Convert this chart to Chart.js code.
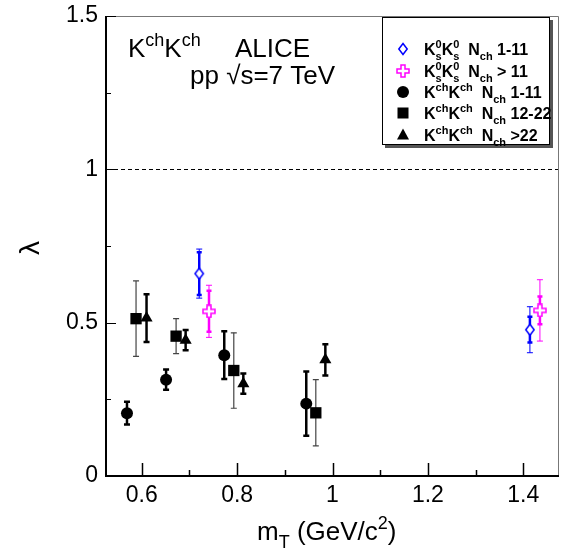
<!DOCTYPE html>
<html>
<head>
<meta charset="utf-8">
<script src="https://cdn.jsdelivr.net/npm/chart.js@4.4.1/dist/chart.umd.min.js"></script>
<style>
  html, body { margin: 0; padding: 0; background: #fff; }
  #wrap { position: relative; width: 567px; height: 554px; }
</style>
</head>
<body>
<div id="wrap"><canvas id="chart" width="567" height="554"></canvas></div>
<script>
// lambda vs mT
const circX = [0.569, 0.651, 0.773, 0.945];
const circY = [0.205, 0.314, 0.394, 0.236];
const circErr = [0.037, 0.033, 0.078, 0.105];

const sqX = [0.588, 0.672, 0.793, 0.965];
const sqY = [0.513, 0.456, 0.344, 0.206];
const sqErr = [0.123, 0.057, 0.123, 0.108];

const triX = [0.610, 0.692, 0.813, 0.985];
const triY = [0.515, 0.443, 0.301, 0.379];
const triErr = [0.078, 0.033, 0.033, 0.051];

const k0LowX = [0.7205, 1.414];
const k0LowY = [0.660, 0.477];
const k0LowStat = [0.070, 0.042];
const k0LowSyst = [0.080, 0.075];

const k0HighX = [0.741, 1.435];
const k0HighY = [0.537, 0.540];
const k0HighStat = [0.067, 0.045];
const k0HighSyst = [0.085, 0.100];

const xMajor = [0.6, 0.8, 1, 1.2, 1.4];
const xMinor = [0.7, 0.9, 1.1, 1.3];
const yMajor = [0, 0.5, 1, 1.5];
const yMinor = [0.25, 0.75, 1.25];

// text pieces: [text, superscript, subscript]
const legendRows = [
  [['K', '0', 's'], ['K', '0', 's'], ['  N', null, 'ch'], [' 1-11']],
  [['K', '0', 's'], ['K', '0', 's'], ['  N', null, 'ch'], [' > 11']],
  [['K', 'ch'], ['K', 'ch'], ['  N', null, 'ch'], [' 1-11']],
  [['K', 'ch'], ['K', 'ch'], ['  N', null, 'ch'], [' 12-22']],
  [['K', 'ch'], ['K', 'ch'], ['  N', null, 'ch'], [' >22']],
];
const legendMarkers = ['diamond', 'cross', 'circle', 'square', 'triangle'];

const FONT = '"Liberation Sans", Arial, sans-serif';
const BLUE = '#0000ff';
const MAGENTA = '#ff00ff';

function toPoints(xs, ys) {
  return xs.map((x, i) => ({ x, y: ys[i] }));
}

function makeDiamond() {
  const c = document.createElement('canvas');
  c.width = 12;
  c.height = 14;
  const g = c.getContext('2d');
  g.beginPath();
  g.moveTo(6, 1.5);
  g.lineTo(10.2, 7);
  g.lineTo(6, 12.5);
  g.lineTo(1.8, 7);
  g.closePath();
  g.fillStyle = '#fff';
  g.fill();
  g.strokeStyle = BLUE;
  g.lineWidth = 1.5;
  g.stroke();
  return c;
}

function makeCross() {
  const c = document.createElement('canvas');
  c.width = 14;
  c.height = 14;
  const g = c.getContext('2d');
  const pts = [[5, 1], [9, 1], [9, 5], [13, 5], [13, 9], [9, 9], [9, 13], [5, 13], [5, 9], [1, 9], [1, 5], [5, 5]];
  g.beginPath();
  pts.forEach(([px, py], i) => (i ? g.lineTo(px, py) : g.moveTo(px, py)));
  g.closePath();
  g.fillStyle = '#fff';
  g.fill();
  g.strokeStyle = MAGENTA;
  g.lineWidth = 1.5;
  g.stroke();
  return c;
}

const diamondImg = makeDiamond();
const crossImg = makeCross();

function drawRich(ctx, x, y, parts, size, weight) {
  let cx = x;
  const small = Math.round(size * 0.68);
  ctx.textAlign = 'left';
  ctx.textBaseline = 'alphabetic';
  parts.forEach(([t, sup, sub]) => {
    ctx.font = `${weight} ${size}px ${FONT}`;
    ctx.fillText(t, cx, y);
    cx += ctx.measureText(t).width;
    ctx.font = `${weight} ${small}px ${FONT}`;
    let w = 0;
    if (sup) {
      ctx.fillText(sup, cx, y - size * 0.42);
      w = ctx.measureText(sup).width;
    }
    if (sub) {
      ctx.fillText(sub, cx, y + size * 0.3);
      w = Math.max(w, ctx.measureText(sub).width);
    }
    cx += w;
  });
  return cx;
}

function drawBar(ctx, px, yScale, val, err, st) {
  const top = yScale.getPixelForValue(val + err);
  const bot = yScale.getPixelForValue(val - err);
  ctx.strokeStyle = st.color;
  ctx.lineWidth = st.width;
  ctx.beginPath();
  ctx.moveTo(px, top);
  ctx.lineTo(px, bot);
  ctx.stroke();
  ctx.lineWidth = st.capWidth;
  ctx.beginPath();
  ctx.moveTo(px - st.cap, top);
  ctx.lineTo(px + st.cap, top);
  ctx.moveTo(px - st.cap, bot);
  ctx.lineTo(px + st.cap, bot);
  ctx.stroke();
}

const errorBars = {
  id: 'errorBars',
  beforeDatasetsDraw(chart) {
    const { ctx, scales: { x, y } } = chart;
    ctx.save();
    chart.data.datasets.forEach((ds) => {
      ds.data.forEach((p, i) => {
        const px = x.getPixelForValue(p.x);
        if (ds.syst) drawBar(ctx, px, y, p.y, ds.syst[i], ds.systStyle);
        if (ds.stat) drawBar(ctx, px, y, p.y, ds.stat[i], ds.statStyle);
      });
    });
    ctx.restore();
  },
};

function drawMarker(ctx, kind, cx, cy) {
  ctx.fillStyle = '#000';
  ctx.beginPath();
  if (kind === 'circle') {
    ctx.arc(cx, cy, 6, 0, Math.PI * 2);
    ctx.fill();
  } else if (kind === 'square') {
    ctx.fillRect(cx - 5.5, cy - 5.5, 11, 11);
  } else if (kind === 'triangle') {
    ctx.moveTo(cx, cy - 6.5);
    ctx.lineTo(cx + 6, cy + 4.5);
    ctx.lineTo(cx - 6, cy + 4.5);
    ctx.closePath();
    ctx.fill();
  } else if (kind === 'diamond') {
    ctx.drawImage(diamondImg, cx - 6, cy - 7);
  } else {
    ctx.drawImage(crossImg, cx - 7, cy - 7);
  }
}

const decorations = {
  id: 'decorations',
  afterDraw(chart) {
    const { ctx, chartArea: a, scales: { x, y } } = chart;
    ctx.save();

    // thin frame on top and right
    ctx.strokeStyle = '#777';
    ctx.lineWidth = 1;
    ctx.beginPath();
    ctx.moveTo(a.left, a.top + 0.5);
    ctx.lineTo(a.right - 0.5, a.top + 0.5);
    ctx.lineTo(a.right - 0.5, a.bottom);
    ctx.stroke();

    // axes
    ctx.strokeStyle = '#000';
    ctx.lineWidth = 2;
    ctx.beginPath();
    ctx.moveTo(a.left, a.top);
    ctx.lineTo(a.left, a.bottom);
    ctx.lineTo(a.right, a.bottom);
    ctx.stroke();

    // inner ticks
    ctx.lineWidth = 1.5;
    ctx.beginPath();
    xMajor.forEach((v) => {
      const px = Math.round(x.getPixelForValue(v)) + 0.5;
      ctx.moveTo(px, a.bottom);
      ctx.lineTo(px, a.bottom - 13);
    });
    xMinor.forEach((v) => {
      const px = Math.round(x.getPixelForValue(v)) + 0.5;
      ctx.moveTo(px, a.bottom);
      ctx.lineTo(px, a.bottom - 6);
    });
    ctx.stroke();
    ctx.lineWidth = 1;
    ctx.beginPath();
    yMajor.forEach((v) => {
      const py = Math.round(y.getPixelForValue(v)) + 0.5;
      ctx.moveTo(a.left, py);
      ctx.lineTo(a.left + 10, py);
    });
    yMinor.forEach((v) => {
      const py = Math.round(y.getPixelForValue(v)) + 0.5;
      ctx.moveTo(a.left, py);
      ctx.lineTo(a.left + 5, py);
    });
    ctx.stroke();

    // dashed line at lambda = 1
    const y1 = Math.round(y.getPixelForValue(1)) + 0.5;
    ctx.setLineDash([4, 3]);
    ctx.beginPath();
    ctx.moveTo(a.left + 1, y1);
    ctx.lineTo(a.right - 1, y1);
    ctx.stroke();
    ctx.setLineDash([]);

    // labels inside the plot
    ctx.fillStyle = '#000';
    drawRich(ctx, 128, 57, [['K', 'ch'], ['K', 'ch']], 26, 'normal');
    drawRich(ctx, 235, 57, [['ALICE']], 26, 'normal');
    drawRich(ctx, 190, 84, [['pp √s=7 TeV']], 26, 'normal');

    // legend box with shadow
    ctx.fillStyle = '#555';
    ctx.fillRect(385, 20, 168, 128);
    ctx.fillStyle = '#fff';
    ctx.fillRect(382, 17, 168, 128);
    ctx.strokeStyle = '#000';
    ctx.lineWidth = 1;
    ctx.strokeRect(382.5, 17.5, 167, 127);
    const rowY = [49, 71, 92, 113, 135];
    legendRows.forEach((row, i) => {
      drawMarker(ctx, legendMarkers[i], 403, rowY[i]);
      ctx.fillStyle = '#000';
      drawRich(ctx, 424, rowY[i] + 6, row, 16, 'bold');
    });

    // axis titles
    drawRich(ctx, 257, 540, [['m', null, 'T'], [' (GeV/c', '2'], [')']], 26, 'normal');
    ctx.save();
    ctx.translate(39, 248);
    ctx.rotate(-Math.PI / 2);
    ctx.font = `normal 28px ${FONT}`;
    ctx.textAlign = 'center';
    ctx.textBaseline = 'alphabetic';
    ctx.fillText('λ', 0, 0);
    ctx.restore();

    ctx.restore();
  },
};

const blackThick = { color: '#000', width: 2.5, cap: 3, capWidth: 2.5 };
const grayThin = { color: '#444', width: 1.2, cap: 3, capWidth: 1.2 };

new Chart(document.getElementById('chart'), {
  type: 'scatter',
  data: {
    datasets: [
      {
        label: 'K0s N 1-11',
        data: toPoints(k0LowX, k0LowY),
        pointStyle: diamondImg,
        stat: k0LowStat,
        syst: k0LowSyst,
        statStyle: { color: BLUE, width: 2.5, cap: 2.5, capWidth: 2.5 },
        systStyle: { color: BLUE, width: 1, cap: 3, capWidth: 1 },
      },
      {
        label: 'K0s N > 11',
        data: toPoints(k0HighX, k0HighY),
        pointStyle: crossImg,
        stat: k0HighStat,
        syst: k0HighSyst,
        statStyle: { color: MAGENTA, width: 2.5, cap: 2.5, capWidth: 2.5 },
        systStyle: { color: MAGENTA, width: 1, cap: 3, capWidth: 1 },
      },
      {
        label: 'Kch N 1-11',
        data: toPoints(circX, circY),
        pointStyle: 'circle',
        pointRadius: 6,
        backgroundColor: '#000',
        borderColor: '#000',
        borderWidth: 0,
        stat: circErr,
        statStyle: blackThick,
      },
      {
        label: 'Kch N 12-22',
        data: toPoints(sqX, sqY),
        pointStyle: 'rect',
        pointRadius: 8,
        backgroundColor: '#000',
        borderColor: '#000',
        borderWidth: 0,
        stat: sqErr,
        statStyle: grayThin,
      },
      {
        label: 'Kch N >22',
        data: toPoints(triX, triY),
        pointStyle: 'triangle',
        pointRadius: 7,
        backgroundColor: '#000',
        borderColor: '#000',
        borderWidth: 0,
        stat: triErr,
        statStyle: blackThick,
      },
    ],
  },
  options: {
    responsive: false,
    animation: false,
    events: [],
    layout: { padding: { top: 16, right: 6, left: 0, bottom: 0 } },
    plugins: {
      legend: { display: false },
      tooltip: { enabled: false },
    },
    scales: {
      x: {
        type: 'linear',
        min: 0.525,
        max: 1.475,
        afterBuildTicks: (s) => { s.ticks = xMajor.map((v) => ({ value: v })); },
        afterFit: (s) => { s.height = 78; s.paddingLeft = 0; s.paddingRight = 0; },
        grid: { display: false, drawTicks: false },
        border: { display: false },
        ticks: {
          padding: 6,
          color: '#000',
          font: { family: FONT, size: 23 },
          callback: (v) => String(v),
        },
      },
      y: {
        type: 'linear',
        min: 0,
        max: 1.5,
        afterBuildTicks: (s) => { s.ticks = yMajor.map((v) => ({ value: v })); },
        afterFit: (s) => { s.width = 106; s.paddingTop = 0; s.paddingBottom = 0; },
        grid: { display: false, drawTicks: false },
        border: { display: false },
        ticks: {
          padding: 8,
          color: '#000',
          font: { family: FONT, size: 23 },
          callback: (v) => String(v),
        },
      },
    },
  },
  plugins: [errorBars, decorations],
});
</script>
</body>
</html>
